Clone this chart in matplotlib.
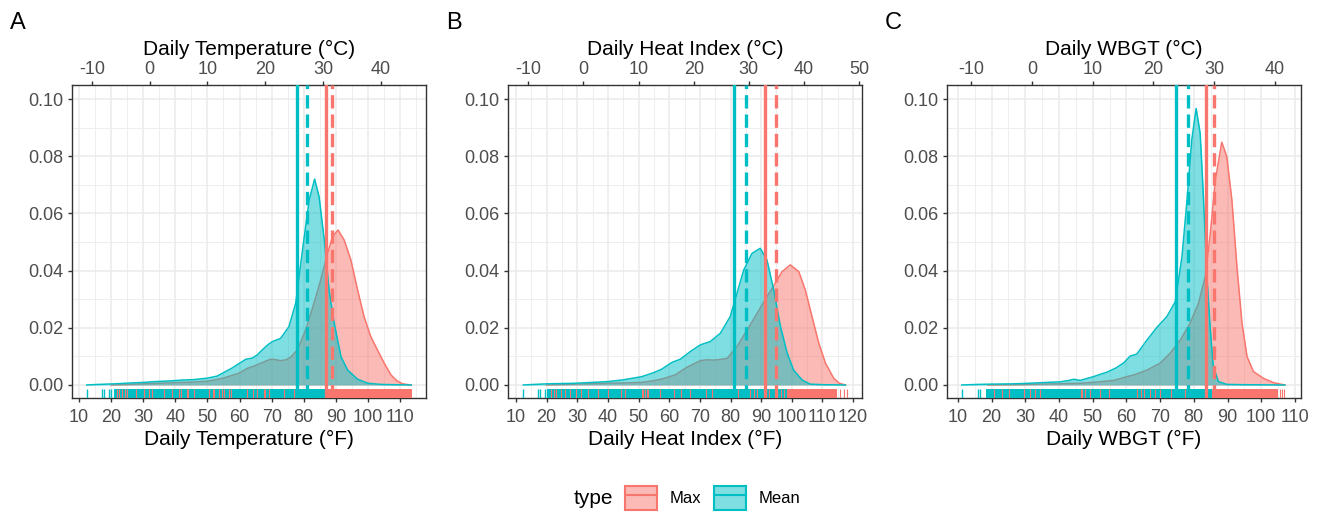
import matplotlib
matplotlib.use("Agg")
import matplotlib.pyplot as plt
from matplotlib.patches import Patch
from matplotlib.lines import Line2D
from matplotlib.legend_handler import HandlerTuple
from matplotlib.ticker import MultipleLocator, FormatStrFormatter

plt.rcParams['font.family'] = ['Liberation Sans', 'DejaVu Sans']
plt.rcParams['axes.unicode_minus'] = False

RED = '#F8766D'
TEAL = '#00BFC4'

# ---- data (x in degF, y = density) ----
# panel A: temperature
temp_max_x = [20, 25, 30, 35, 40, 45, 50, 55, 60, 62.4, 64.5, 66.6, 68.5, 69.7, 71, 72.8, 74.5, 75.9,
              78, 80.6, 83.2, 85.3, 87.4, 89, 90.7, 92.6, 94.7, 96.8, 98.8, 100.9, 103, 105.1, 107.2,
              109, 110.8, 113.5]
temp_max_y = [0, 0.0002, 0.0004, 0.0006, 0.0008, 0.001, 0.0013, 0.0024, 0.0042, 0.0058, 0.0066, 0.0076,
              0.0085, 0.009, 0.0089, 0.0085, 0.0088, 0.0097, 0.0122, 0.0192, 0.0286, 0.0367, 0.046,
              0.0519, 0.0542, 0.0507, 0.0437, 0.0332, 0.0239, 0.0169, 0.0122, 0.0076, 0.0035, 0.0015,
              0.0004, 0]
temp_mean_x = [12.4, 16, 21, 26, 30, 34, 38, 42, 46, 50, 53, 55, 57.5, 60, 62, 64, 65.5, 67.2, 69, 70.3,
               72.8, 75.4, 77.5, 79.6, 81.7, 83.4, 84.8, 86.4, 87.9, 89.5, 91.6, 93.7, 96.8, 100, 104,
               108, 113.5]
temp_mean_y = [0, 0.0002, 0.0004, 0.0007, 0.0009, 0.0012, 0.0014, 0.0017, 0.0019, 0.0024, 0.0031, 0.0043,
               0.0058, 0.0076, 0.009, 0.0094, 0.0105, 0.0124, 0.0142, 0.0152, 0.0163, 0.0204, 0.0286,
               0.047, 0.0647, 0.072, 0.0658, 0.0507, 0.0332, 0.0216, 0.0099, 0.0052, 0.002, 0.0006,
               0.0002, 0.0001, 0]

# panel B: heat index
hi_max_x = [20, 25, 30, 35, 40, 45, 51, 55, 58, 61.9, 65.8, 70.1, 72, 74.5, 76.5, 78.9, 82.1, 85.4, 88.7,
            91.9, 94.6, 96.8, 99.5, 102.3, 104.4, 106.6, 108.8, 111, 113.7, 115.5, 117.5]
hi_max_y = [0, 0.0002, 0.0003, 0.0005, 0.0006, 0.0007, 0.0009, 0.0015, 0.0022, 0.0035, 0.0062, 0.0085,
            0.0088, 0.0087, 0.0089, 0.0093, 0.0134, 0.0192, 0.0251, 0.0309, 0.0356, 0.0396, 0.042,
            0.0396, 0.0332, 0.0239, 0.0146, 0.0076, 0.0023, 0.0006, 0]
hi_mean_x = [12.4, 16, 20, 25, 29.2, 35, 40.1, 45, 51, 54.9, 57.5, 60.9, 63.6, 66.9, 70.1, 73.4, 76.7,
             79.9, 82.1, 84.3, 87, 89.7, 91.9, 94.1, 96.3, 98.5, 100.6, 103.4, 106, 110, 117.5]
hi_mean_y = [0, 0.0002, 0.0004, 0.0005, 0.0006, 0.0009, 0.0012, 0.0018, 0.0029, 0.0043, 0.0055, 0.0079,
             0.009, 0.0117, 0.014, 0.0152, 0.0181, 0.0239, 0.032, 0.0402, 0.046, 0.0478, 0.0437,
             0.0332, 0.0204, 0.0111, 0.0052, 0.0017, 0.0003, 0.0001, 0]

# panel C: WBGT
wbgt_max_x = [19, 25, 30, 35, 40, 46.4, 51, 56.3, 60.1, 62.2, 66.1, 70, 73, 76, 78.9, 81.4, 83.4, 84.9,
              86.4, 88.3, 89.8, 91.3, 92.8, 94.3, 95.8, 97.7, 100.7, 103.7, 107]
wbgt_max_y = [0, 0.0001, 0.0002, 0.0003, 0.0004, 0.0006, 0.001, 0.0016, 0.0029, 0.0035, 0.0052, 0.0076,
              0.0111, 0.0157, 0.0216, 0.0286, 0.0379, 0.053, 0.0717, 0.0849, 0.0798, 0.0647, 0.0414,
              0.0216, 0.0099, 0.0047, 0.0023, 0.0008, 0]
wbgt_mean_x = [11.2, 16, 20, 26.6, 31, 36.5, 40.4, 43, 44.4, 46.3, 50.2, 54.3, 57, 59.3, 61.1, 63.1, 66.1,
               69.1, 72, 74.5, 76.5, 78, 79.4, 80.7, 81.9, 82.9, 83.9, 84.9, 85.8, 87.3, 89.8, 95, 107]
wbgt_mean_y = [0, 0.0002, 0.0003, 0.0004, 0.0006, 0.0009, 0.0011, 0.0016, 0.002, 0.0016, 0.0029, 0.0045,
               0.006, 0.0078, 0.0101, 0.0108, 0.0157, 0.0202, 0.0239, 0.0291, 0.0449, 0.0647, 0.0857,
               0.0967, 0.088, 0.0647, 0.0379, 0.0192, 0.0064, 0.0012, 0.0002, 0.0001, 0]

# vertical reference lines: (solid, dashed)
temp_vlines = {'Mean': (77.8, 81.1), 'Max': (87.0, 88.8)}
hi_vlines = {'Mean': (81.3, 84.9), 'Max': (91.1, 94.7)}
wbgt_vlines = {'Mean': (74.7, 78.3), 'Max': (83.6, 86.0)}

# rug marks: isolated ticks and dense runs
temp_rug_mean_ticks = [12.4, 17.1, 17.8, 19.4, 20.1]
temp_rug_mean_runs = [(20.8, 87.6)]
temp_rug_max_runs = [(87.6, 113.6)]
temp_rug_max_ticks = [21.9, 22.3, 23.4, 24.4, 25.0, 27.6, 30.1, 30.3, 31.7, 32.8, 36.5, 39.1, 41.0, 41.7,
                      43.6, 43.9, 45.7, 50.4, 50.6, 51.6, 52.0, 53.7, 54.6, 55.2, 56.8, 57.2, 62.4, 64.1,
                      65.5, 67.6, 67.8, 69.3, 73.8, 77.0]

hi_rug_mean_ticks = [12.4, 17.3, 17.8, 19.4]
hi_rug_mean_runs = [(20.0, 98.5)]
hi_rug_max_runs = [(98.5, 114.8)]
hi_rug_max_ticks = [21.5, 22.5, 23.2, 24.8, 26.0, 27.5, 29.7, 31.3, 33.5, 36.8, 40.1, 44.4, 45.5, 51.0,
                    51.6, 52.1, 52.7, 53.2, 57.0, 61.5, 64.0, 66.8, 72.0, 74.0, 81.2, 82.5, 86.5, 87.5,
                    88.5, 91.0, 92.5, 96.5, 97.5, 115.8, 116.9, 118.0]

wbgt_rug_mean_ticks = [11.2, 16.1, 16.6]
wbgt_rug_mean_runs = [(18.3, 85.4)]
wbgt_rug_max_runs = [(85.4, 105.1)]
wbgt_rug_max_ticks = [20.7, 23.1, 25.1, 29.5, 29.7, 31.5, 33.0, 34.5, 46.4, 46.8, 47.8, 49.3, 52.3, 54.8,
                      63.1, 64.2, 65.1, 67.0, 68.5, 70.0, 73.2, 77.3, 78.2, 105.6, 106.1, 106.8]

panels = [
    dict(tag='A', name='Daily Temperature', xlim=(7.8, 118.1), xticks=range(10, 111, 10),
         cticks=range(-10, 41, 10), left=72,
         max_x=temp_max_x, max_y=temp_max_y, mean_x=temp_mean_x, mean_y=temp_mean_y,
         vl=temp_vlines, rmt=temp_rug_mean_ticks, rmr=temp_rug_mean_runs,
         rxr=temp_rug_max_runs, rxt=temp_rug_max_ticks),
    dict(tag='B', name='Daily Heat Index', xlim=(7.4, 122.9), xticks=range(10, 121, 10),
         cticks=range(-10, 51, 10), left=508,
         max_x=hi_max_x, max_y=hi_max_y, mean_x=hi_mean_x, mean_y=hi_mean_y,
         vl=hi_vlines, rmt=hi_rug_mean_ticks, rmr=hi_rug_mean_runs,
         rxr=hi_rug_max_runs, rxt=hi_rug_max_ticks),
    dict(tag='C', name='Daily WBGT', xlim=(6.8, 111.8), xticks=range(10, 111, 10),
         cticks=range(-10, 41, 10), left=947,
         max_x=wbgt_max_x, max_y=wbgt_max_y, mean_x=wbgt_mean_x, mean_y=wbgt_mean_y,
         vl=wbgt_vlines, rmt=wbgt_rug_mean_ticks, rmr=wbgt_rug_mean_runs,
         rxr=wbgt_rug_max_runs, rxt=wbgt_rug_max_ticks),
]

W, H = 1325, 516
fig = plt.figure(figsize=(W / 100, H / 100), dpi=100)

RUG = 0.03
for p in panels:
    ax = fig.add_axes([p['left'] / W, 1 - 398 / H, 354 / W, 313 / H])
    ax.set_xlim(*p['xlim'])
    ax.set_ylim(-0.00455, 0.1049)

    # densities: Max first, Mean on top
    ax.fill_between(p['max_x'], 0, p['max_y'], color=RED, alpha=0.5, lw=0, zorder=2)
    ax.plot(p['max_x'], p['max_y'], color=RED, lw=1.1, zorder=2)
    ax.fill_between(p['mean_x'], 0, p['mean_y'], color=TEAL, alpha=0.5, lw=0, zorder=3)
    ax.plot(p['mean_x'], p['mean_y'], color=TEAL, lw=1.1, zorder=3)

    # rug
    tr = ax.get_xaxis_transform()
    for a, b in p['rxr']:
        ax.axvspan(a, b, ymin=0, ymax=RUG, color=RED, lw=0, zorder=4)
    for a, b in p['rmr']:
        ax.axvspan(a, b, ymin=0, ymax=RUG, color=TEAL, lw=0, zorder=4)
    ax.vlines(p['rmt'], 0, RUG, transform=tr, color=TEAL, lw=1.0, zorder=4)
    ax.vlines(p['rxt'], 0, RUG, transform=tr, color=RED, lw=0.8, zorder=5)

    # reference lines
    for key, col in (('Mean', TEAL), ('Max', RED)):
        solid, dashed = p['vl'][key]
        ax.axvline(solid, color=col, lw=2.4, zorder=6)
        ax.axvline(dashed, color=col, lw=2.4, ls=(0, (4, 1.8)), zorder=6)

    # grid / axes styling
    ax.set_xticks(list(p['xticks']))
    ax.xaxis.set_minor_locator(MultipleLocator(5))
    ax.set_yticks([0, 0.02, 0.04, 0.06, 0.08, 0.10])
    ax.yaxis.set_minor_locator(MultipleLocator(0.01))
    ax.yaxis.set_major_formatter(FormatStrFormatter('%.2f'))
    ax.grid(which='major', color='#EBEBEB', lw=1.1, zorder=0)
    ax.grid(which='minor', color='#EEEEEE', lw=0.7, zorder=0)
    ax.set_axisbelow(True)
    ax.tick_params(which='major', length=3, width=1, color='#333333',
                   labelsize=13, labelcolor='#4D4D4D', pad=3)
    ax.tick_params(axis='x', which='major', pad=5)
    ax.tick_params(which='minor', length=0)
    for s in ax.spines.values():
        s.set_color('#333333')
        s.set_linewidth(1.0)
    ax.set_xlabel(p['name'] + ' (°F)', fontsize=15, labelpad=3)

    sec = ax.secondary_xaxis('top', functions=(lambda f: (f - 32) * 5 / 9, lambda c: c * 9 / 5 + 32))
    sec.set_xticks(list(p['cticks']))
    sec.tick_params(length=3, width=1, color='#333333', labelsize=13, labelcolor='#4D4D4D', pad=2)
    sec.spines['top'].set_visible(False)
    sec.set_xlabel(p['name'] + ' (°C)', fontsize=15, labelpad=4)

    fig.text((p['left'] - 62) / W, 1 - 23 / H, p['tag'], fontsize=17, va='center', ha='left')

# legend
fig.text(593 / W, 1 - 499 / H, 'type', fontsize=15, ha='center', va='center')
h_max = (Patch(facecolor=RED, alpha=0.5, edgecolor='none'),
         Patch(facecolor='none', edgecolor=RED, lw=1.5), Line2D([], [], color=RED, lw=1.5))
h_mean = (Patch(facecolor=TEAL, alpha=0.5, edgecolor='none'),
          Patch(facecolor='none', edgecolor=TEAL, lw=1.5), Line2D([], [], color=TEAL, lw=1.5))
fig.legend([h_max, h_mean], ['Max', 'Mean'], handler_map={tuple: HandlerTuple(ndivide=1)},
           loc='center left', bbox_to_anchor=(625 / W, 1 - 498 / H), ncol=2, frameon=False,
           fontsize=12, handlelength=1.92, handleheight=1.86, handletextpad=0.78,
           columnspacing=0.72, borderpad=0, borderaxespad=0)

fig.savefig('out.png', dpi=100)
